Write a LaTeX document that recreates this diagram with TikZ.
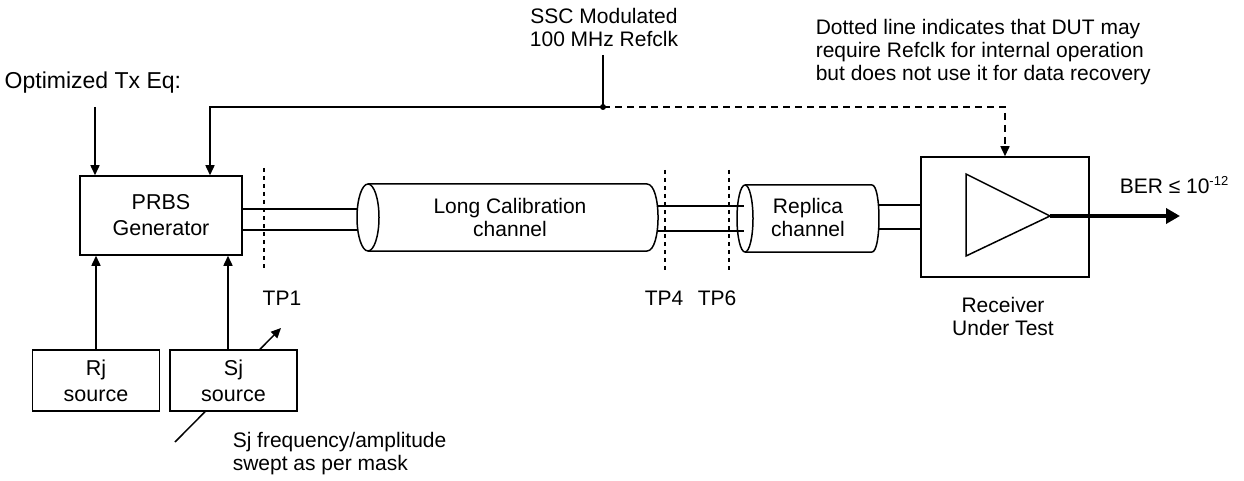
\documentclass[tikz,border=0pt]{standalone}
\usepackage{fontspec}
\setmainfont{Liberation Sans}
\usetikzlibrary{arrows.meta}
\begin{document}
\begin{tikzpicture}[x=1pt,y=-1pt,line width=1.5pt,
  txt/.style={font=\fontsize{21}{23}\selectfont, inner sep=0pt, align=center},
  box/.style={draw, fill=white, inner sep=0pt, font=\fontsize{21.5}{26}\selectfont, align=center},
  arr/.style={-{Triangle[length=10pt,width=9pt]}},
  tpline/.style={line width=1.1pt, dash pattern=on 4pt off 4pt},
  clkdash/.style={dash pattern=on 7pt off 5pt}]
\useasboundingbox (0,0) rectangle (1244,481);

% boxes
\node[box, minimum width=162pt, minimum height=79pt] (prbs) at (161,215.5) {PRBS\\Generator};
\node[box, minimum width=127pt, minimum height=61pt] (rj) at (96,380.5) {Rj\\source};
\node[box, minimum width=127pt, minimum height=61pt] (sj) at (233.5,380.5) {Sj\\source};
\node[box, minimum width=168pt, minimum height=120pt] (rx) at (1005,217) {};

% texts
\node[txt, anchor=west, font=\fontsize{23}{25}\selectfont] (eqtxt) at (4,83) {Optimized Tx Eq:};
\node[txt] (ssc) at (604,27) {SSC Modulated\\100 MHz Refclk};
\node[txt, anchor=west, align=left] (note) at (815,52) {Dotted line indicates that DUT may\\require Refclk for internal operation\\but does not use it for data recovery};
\node[txt] (tp1) at (282,298) {TP1};
\node[txt] (tp4) at (664,298) {TP4};
\node[txt] (tp6) at (717,298) {TP6};
\node[txt, anchor=west, align=left] (sjtxt) at (232,454) {Sj frequency/amplitude\\swept as per mask};
\node[txt] (rxtxt) at (1003,316) {Receiver\\Under Test};
\node[txt, anchor=west] (ber) at (1119,185) {BER ≤ 10\raisebox{0.7ex}{\fontsize{13}{13}\selectfont -12}};

% Long calibration channel cylinder
\coordinate (lcL) at (368,217.5);
\draw (368,184) -- (647,184) .. controls (661.7,184) and (661.7,251) .. (647,251) -- (368,251);
\draw[fill=white] (lcL) ellipse[x radius=11, y radius=33.5];
\node[txt] (lctxt) at (510,217) {Long Calibration\\channel};

% Replica channel cylinder
\coordinate (rcL) at (745,218.5);
\draw (745,185) -- (872,185) .. controls (881.3,185) and (881.3,252) .. (872,252) -- (745,252);
\draw[fill=white] (rcL) ellipse[x radius=8, y radius=33.5];
\node[txt] (rctxt) at (808,217) {Replica\\channel};

% differential lines
\draw (prbs.east |- 0,209) -- (357.5,209);
\draw (prbs.east |- 0,230) -- (357.5,230);
\draw (658,206) -- (744,206);
\draw (658,231) -- (744,231);
\draw (879,205) -- (rx.west |- 0,205);
\draw (879,229) -- (rx.west |- 0,229);

% test point lines
\draw[tpline] (264,168) -- (264,271);
\draw[tpline] (665,170) -- (665,272);
\draw[tpline] (729,170) -- (729,272);

% amplifier
\coordinate (ampout) at (1050,216);
\draw (966,174) -- (966,256) -- (ampout) -- cycle;
\coordinate (berend) at (1180,216);
\draw[line width=4.5pt, -{Triangle[length=14pt,width=15pt]}] (ampout) -- (berend);

% input arrows to PRBS
\coordinate (eq) at (95,107);
\draw[arr] (eq) -- (eq |- prbs.north);
\coordinate (dot) at (603,107);
\coordinate (clktop) at (603,55);
\coordinate (ck) at (210,107);
\draw (clktop) -- (dot);
\draw[arr] (dot) -- (ck) -- (ck |- prbs.north);
\fill (dot) circle[radius=3pt];
\draw[arr, clkdash] (dot) -| (rx.north);

\draw[arr] (rj.north) -- (rj.north |- prbs.south);
\draw[arr] ([xshift=-5.5pt]sj.north) -- ([xshift=-5.5pt]sj.north |- prbs.south);

% Sj sweep arrows
\coordinate (sjarrow) at (281,328);
\draw[arr] ([xshift=26.5pt]sj.north) -- (sjarrow);
\coordinate (sjline) at (175,442);
\draw (sjline) -- ([xshift=-28.5pt]sj.south);
\end{tikzpicture}
\end{document}
